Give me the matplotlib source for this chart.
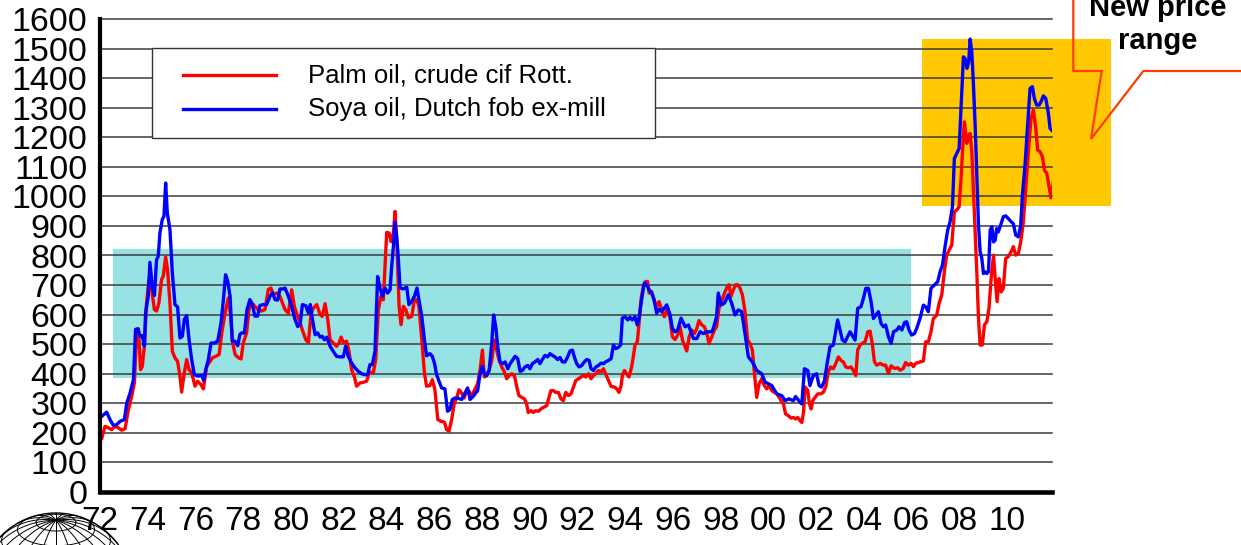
import numpy as np
import matplotlib.pyplot as plt
from matplotlib.patches import Rectangle, Circle

plt.rcParams['font.family'] = ['Liberation Sans', 'DejaVu Sans']

# --- data (USD/t) ---
palm_years = [1972.00, 1972.07, 1972.21, 1972.35, 1972.49, 1972.63, 1972.77, 1972.91, 1973.05, 1973.19,
              1973.33, 1973.44, 1973.54, 1973.61, 1973.70, 1973.77, 1973.86, 1973.95, 1974.05, 1974.16,
              1974.28, 1974.37, 1974.47, 1974.58, 1974.65, 1974.75, 1974.83, 1974.93, 1975.03, 1975.14,
              1975.25, 1975.35, 1975.42, 1975.53, 1975.63, 1975.73, 1975.84, 1975.98, 1976.09, 1976.23,
              1976.33, 1976.47, 1976.57, 1976.71, 1976.85, 1976.99, 1977.10, 1977.24, 1977.38, 1977.47,
              1977.56, 1977.66, 1977.80, 1977.91, 1978.00, 1978.14, 1978.24, 1978.35, 1978.49, 1978.63,
              1978.77, 1978.91, 1979.05, 1979.16, 1979.26, 1979.40, 1979.54, 1979.64,
              1979.75, 1979.89, 1980.03, 1980.14, 1980.28, 1980.38, 1980.52, 1980.62, 1980.73, 1980.84,
              1980.94, 1981.08, 1981.22, 1981.31, 1981.43, 1981.54, 1981.64, 1981.77, 1981.91, 1982.01,
              1982.10, 1982.19, 1982.33, 1982.43, 1982.54, 1982.65, 1982.75, 1982.89, 1983.03, 1983.17,
              1983.27, 1983.35, 1983.45, 1983.55, 1983.66, 1983.77, 1983.87, 1983.94, 1984.01, 1984.11,
              1984.19, 1984.29, 1984.36, 1984.44, 1984.53, 1984.61, 1984.71, 1984.81, 1984.92, 1985.06,
              1985.17, 1985.27, 1985.36, 1985.48, 1985.59, 1985.68, 1985.82, 1985.92, 1986.03, 1986.15,
              1986.29, 1986.43, 1986.52, 1986.62, 1986.73, 1986.84, 1986.94, 1987.04, 1987.15, 1987.26,
              1987.36, 1987.46, 1987.57,
              1987.71, 1987.82, 1987.92, 1988.02, 1988.10, 1988.20, 1988.30, 1988.41, 1988.52, 1988.62,
              1988.72, 1988.83, 1988.94, 1989.04, 1989.13, 1989.25, 1989.36, 1989.46, 1989.55, 1989.67,
              1989.78, 1989.87, 1989.94, 1990.06, 1990.15, 1990.25, 1990.36, 1990.47, 1990.57, 1990.71,
              1990.81, 1990.89, 1990.99, 1991.09, 1991.20, 1991.31, 1991.41, 1991.51, 1991.62, 1991.73,
              1991.83, 1991.93, 1992.04, 1992.15, 1992.25, 1992.35, 1992.46, 1992.57, 1992.67, 1992.77,
              1992.88, 1992.99, 1993.09, 1993.18, 1993.30, 1993.41, 1993.55, 1993.65, 1993.74, 1993.83,
              1993.88, 1993.97, 1994.06, 1994.16, 1994.27, 1994.34, 1994.41, 1994.51, 1994.58, 1994.66,
              1994.76, 1994.86, 1994.94, 1995.00, 1995.11, 1995.21, 1995.32, 1995.42, 1995.53, 1995.64,
              1995.78, 1995.88, 1995.98, 1996.09, 1996.20, 1996.30, 1996.40, 1996.48, 1996.58, 1996.68,
              1996.79, 1996.90, 1997.00, 1997.09, 1997.21, 1997.32, 1997.42, 1997.51, 1997.63, 1997.74,
              1997.83, 1997.93, 1998.04, 1998.16, 1998.25, 1998.35, 1998.43, 1998.53, 1998.63, 1998.71,
              1998.81, 1998.91, 1999.02, 1999.13, 1999.23, 1999.33, 1999.41, 1999.51, 1999.61, 1999.72,
              1999.83, 1999.93, 2000.03, 2000.14, 2000.25, 2000.35, 2000.45, 2000.53, 2000.63, 2000.72,
              2000.84, 2000.95, 2001.05, 2001.14, 2001.23, 2001.33, 2001.40, 2001.47, 2001.54, 2001.65,
              2001.72, 2001.79, 2001.86, 2001.95, 2002.07, 2002.18, 2002.30, 2002.40, 2002.51, 2002.61,
              2002.72, 2002.82, 2002.93, 2003.04, 2003.14, 2003.24, 2003.35, 2003.46, 2003.56, 2003.66,
              2003.74, 2003.84, 2003.94, 2004.05, 2004.16, 2004.26, 2004.36, 2004.44, 2004.54, 2004.68,
              2004.82, 2004.91, 2005.03, 2005.14, 2005.28, 2005.42, 2005.52, 2005.65, 2005.75, 2005.86,
              2005.98, 2006.07, 2006.17, 2006.28, 2006.39, 2006.49, 2006.59, 2006.70, 2006.81, 2006.91,
              2007.05, 2007.15, 2007.26, 2007.37, 2007.47, 2007.57, 2007.68, 2007.79, 2007.89, 2007.99,
              2008.07, 2008.13, 2008.21, 2008.31, 2008.38, 2008.45, 2008.52, 2008.59, 2008.66, 2008.73,
              2008.80, 2008.87, 2008.96, 2009.05, 2009.15, 2009.24, 2009.33, 2009.43, 2009.50, 2009.58,
              2009.66, 2009.75, 2009.84, 2009.94, 2010.05, 2010.17, 2010.26, 2010.36, 2010.47, 2010.57,
              2010.68, 2010.78, 2010.89, 2011.00, 2011.10, 2011.20, 2011.28, 2011.38, 2011.48, 2011.56,
              2011.66, 2011.76, 2011.84, 2011.94]
palm_vals = [195, 180, 222, 217, 211, 222, 217, 209, 214, 279,
             324, 369, 550, 552, 414, 425, 493, 640, 719, 685,
             617, 612, 640, 719, 730, 795, 752, 640, 476, 454,
             442, 392, 338, 403, 448, 414, 403, 358, 375, 363,
             349, 425, 437, 454, 459, 465, 538, 606, 657, 595,
             504, 465, 454, 450, 504, 538, 617, 640, 628, 617,
             612, 617, 685, 690, 668, 673, 662, 640,
             617, 605, 684, 628, 594, 572, 538, 515, 506, 605,
             622, 634, 600, 594, 637, 583, 515, 504, 493, 504,
             524, 506, 510, 476, 414, 391, 358, 369, 371, 375,
             403, 405, 403, 448, 617, 662, 650, 763, 878, 876,
             847, 876, 949, 831, 628, 566, 628, 617, 589, 594,
             650, 650, 628, 515, 403, 358, 360, 380, 346, 245,
             239, 236, 211, 206, 245, 299, 318, 346, 335, 318,
             346, 341, 324,
             349, 366, 411, 480, 389, 394, 411, 445, 514, 480,
             445, 423, 406, 383, 394, 400, 394, 355, 326, 320,
             315, 298, 269, 275, 269, 275, 273, 281, 286, 292,
             320, 343, 343, 337, 337, 315, 309, 337, 326, 332,
             355, 377, 383, 389, 394, 389, 400, 383, 394, 400,
             411, 406, 417, 400, 377, 357, 355, 349, 337, 360,
             394, 411, 400, 389, 423, 457, 497, 508, 570, 650,
             695, 712, 712, 673, 678, 650, 627, 644, 616, 593,
             622, 588, 525, 516, 531, 559, 514, 497, 477, 525,
             548, 536, 553, 580, 565, 559, 536, 502, 525, 548,
             559, 622, 644, 673, 690, 701, 661, 684, 701, 701,
             690, 667, 610, 514, 502, 480, 406, 320, 366, 383,
             360, 349, 360, 343, 337, 332, 320, 309, 298, 264,
             258, 250, 252, 247, 252, 241, 235, 269, 355, 343,
             298, 281, 309, 320, 332, 332, 337, 355, 406, 423,
             417, 434, 457, 445, 440, 423, 420, 423, 411, 394,
             480, 497, 503, 508, 542, 544, 497, 441, 429, 435,
             429, 429, 401, 427, 418, 420, 412, 418, 438, 429,
             435, 424, 435, 438, 441, 443, 508, 508, 542, 587,
             598, 638, 666, 745, 801, 818, 835, 948, 954, 965,
             1061, 1151, 1252, 1179, 1207, 1213, 1151, 1016, 880, 745,
             587, 497, 497, 565, 576, 621, 722, 801, 722, 644,
             722, 677, 689, 790, 796, 813, 830, 801, 807, 846,
             914, 1027, 1151, 1264, 1292, 1230, 1157, 1151, 1134, 1089,
             1078, 1032, 995, 1049]

soya_years = [1972.00, 1972.28, 1972.42, 1972.56, 1972.70, 1972.84, 1973.02, 1973.12, 1973.26, 1973.40,
              1973.49, 1973.58, 1973.68, 1973.77, 1973.86, 1973.91, 1974.02, 1974.09, 1974.19, 1974.28,
              1974.37, 1974.44, 1974.51, 1974.61, 1974.68, 1974.75, 1974.82, 1974.93, 1975.03, 1975.14,
              1975.25, 1975.35, 1975.45, 1975.53, 1975.63, 1975.73, 1975.84, 1975.95, 1976.12, 1976.26,
              1976.34, 1976.43, 1976.54, 1976.65, 1976.79, 1976.93, 1977.07, 1977.17, 1977.26, 1977.35,
              1977.45, 1977.54, 1977.66, 1977.77, 1977.86, 1977.93, 1978.05, 1978.16, 1978.28, 1978.38,
              1978.49, 1978.60, 1978.70, 1978.84, 1978.98, 1979.12, 1979.23, 1979.33, 1979.44, 1979.54,
              1979.68,
              1979.75, 1979.89, 1980.03, 1980.17, 1980.28, 1980.38, 1980.48, 1980.62, 1980.73, 1980.81,
              1980.90, 1981.01, 1981.12, 1981.22, 1981.31, 1981.40, 1981.50, 1981.64, 1981.77, 1981.91,
              1982.05, 1982.19, 1982.29, 1982.40, 1982.54, 1982.68, 1982.82, 1982.96, 1983.10, 1983.21,
              1983.31, 1983.41, 1983.52, 1983.63, 1983.73, 1983.83, 1983.94, 1984.05, 1984.15, 1984.22,
              1984.29, 1984.36, 1984.43, 1984.50, 1984.57, 1984.71, 1984.85, 1984.94, 1985.06, 1985.17,
              1985.28, 1985.36, 1985.48, 1985.59, 1985.68, 1985.82, 1985.92, 1986.01, 1986.10, 1986.20,
              1986.31, 1986.45, 1986.56, 1986.66, 1986.76, 1986.87, 1987.01, 1987.15, 1987.29, 1987.40,
              1987.50, 1987.64,
              1987.71, 1987.82, 1987.92, 1988.02, 1988.10, 1988.20, 1988.30, 1988.41, 1988.49, 1988.58,
              1988.66, 1988.76, 1988.86, 1988.97, 1989.08, 1989.18, 1989.27, 1989.39, 1989.50, 1989.60,
              1989.69, 1989.80, 1989.92, 1990.01, 1990.11, 1990.22, 1990.34, 1990.43, 1990.53, 1990.64,
              1990.75, 1990.85, 1990.95, 1991.06, 1991.17, 1991.27, 1991.37, 1991.48, 1991.59, 1991.69,
              1991.79, 1991.87, 1991.97, 1992.07, 1992.18, 1992.29, 1992.39, 1992.49, 1992.57, 1992.67,
              1992.77, 1992.88, 1992.99, 1993.09, 1993.18, 1993.30, 1993.41, 1993.51, 1993.60, 1993.71,
              1993.81, 1993.88, 1993.99, 1994.11, 1994.20, 1994.30, 1994.41, 1994.51, 1994.58, 1994.65,
              1994.73, 1994.80, 1994.90, 1995.00, 1995.11, 1995.21, 1995.32, 1995.42, 1995.53, 1995.64,
              1995.74, 1995.88, 1995.98, 1996.09, 1996.20, 1996.34, 1996.51, 1996.65, 1996.86, 1997.00,
              1997.14, 1997.28, 1997.42, 1997.63, 1997.69, 1997.83, 1997.90, 1998.02, 1998.16, 1998.32,
              1998.46, 1998.60, 1998.74, 1998.88, 1999.02, 1999.16, 1999.33, 1999.51, 1999.72, 1999.86,
              2000.00, 2000.14, 2000.35, 2000.56, 2000.70, 2000.86, 2001.05, 2001.14, 2001.33, 2001.40,
              2001.51, 2001.65, 2001.74, 2001.88, 2002.02, 2002.12, 2002.23, 2002.35, 2002.48, 2002.58,
              2002.72, 2002.90, 2003.10, 2003.21, 2003.42, 2003.63,
              2003.74, 2003.88, 2003.98, 2004.08, 2004.19, 2004.30, 2004.40, 2004.50, 2004.61, 2004.72,
              2004.82, 2004.91, 2005.03, 2005.14, 2005.24, 2005.38, 2005.47, 2005.59, 2005.70, 2005.79,
              2005.89, 2006.00, 2006.12, 2006.21, 2006.35, 2006.49, 2006.59, 2006.70, 2006.81, 2006.95,
              2007.09, 2007.19, 2007.29, 2007.40, 2007.51, 2007.61, 2007.71, 2007.79, 2007.89, 2007.99,
              2008.07, 2008.17, 2008.24, 2008.32, 2008.39, 2008.45, 2008.52, 2008.59, 2008.66, 2008.73,
              2008.80, 2008.87, 2008.94, 2009.01, 2009.08, 2009.15, 2009.22, 2009.29, 2009.36, 2009.43,
              2009.50, 2009.56, 2009.63, 2009.73, 2009.84, 2009.94, 2010.05, 2010.17, 2010.26, 2010.36,
              2010.47, 2010.57, 2010.64, 2010.75, 2010.86, 2010.96, 2011.06, 2011.14, 2011.24, 2011.34,
              2011.42, 2011.52, 2011.62, 2011.73, 2011.80, 2011.90]
soya_vals = [251, 270, 245, 225, 228, 239, 245, 301, 335, 380,
             550, 552, 527, 529, 493, 606, 662, 777, 696, 665,
             786, 797, 876, 922, 933, 1045, 944, 888, 741, 634,
             626, 521, 527, 583, 597, 516, 448, 397, 392, 395,
             377, 414, 448, 504, 504, 510, 572, 651, 735, 713,
             662, 510, 510, 495, 533, 538, 538, 617, 651, 634,
             595, 595, 631, 634, 634, 662, 674, 651, 649, 687,
             687,
             690, 662, 628, 583, 560, 566, 634, 630, 605, 634,
             583, 532, 538, 524, 527, 515, 524, 493, 476, 459,
             457, 457, 493, 459, 436, 420, 408, 400, 397, 397,
             431, 431, 476, 729, 690, 662, 690, 673, 684, 763,
             831, 912, 864, 786, 690, 687, 693, 634, 645, 662,
             690, 650, 594, 515, 461, 468, 459, 436, 397, 375,
             352, 349, 273, 279, 313, 318, 317, 313, 335, 352,
             313, 324,
             332, 343, 400, 425, 400, 394, 411, 502, 599, 559,
             491, 440, 434, 440, 417, 434, 445, 459, 451, 408,
             411, 423, 428, 417, 434, 440, 448, 434, 448, 462,
             457, 468, 462, 457, 448, 455, 440, 440, 457, 477,
             480, 457, 434, 423, 428, 440, 448, 445, 417, 411,
             423, 428, 436, 434, 440, 445, 451, 497, 485, 489,
             497, 588, 593, 582, 591, 582, 593, 565, 588, 627,
             673, 707, 701, 684, 673, 650, 605, 618, 610, 622,
             633, 599, 553, 542, 548, 588, 559, 565, 519, 519,
             542, 536, 542, 542, 553, 593, 673, 633, 639, 667,
             639, 599, 616, 610, 536, 457, 440, 411, 400, 372,
             366, 360, 332, 326, 309, 315, 309, 323, 303, 298,
             417, 411, 360, 394, 400, 360, 355, 377, 445, 491,
             497, 582, 514, 508, 542, 514,
             621, 627, 655, 689, 689, 644, 587, 598, 610, 570,
             559, 565, 525, 503, 542, 548, 559, 548, 573, 576,
             548, 531, 536, 553, 587, 632, 627, 610, 689, 700,
             711, 745, 767, 830, 886, 914, 965, 1128, 1145, 1162,
             1297, 1472, 1466, 1433, 1455, 1532, 1489, 1377, 1241, 1072,
             903, 813, 790, 739, 745, 739, 745, 886, 897, 846,
             852, 891, 880, 903, 931, 934, 925, 914, 908, 869,
             863, 903, 1004, 1106, 1241, 1365, 1371, 1331, 1309, 1309,
             1320, 1340, 1331, 1280, 1230, 1221]

old_range = (1972.56, 2005.96, 386, 823)   # x0, x1, y0, y1
new_range = (2006.45, 2014.35, 968, 1533)
x_ticks = list(range(1972, 2011, 2))
y_ticks = list(range(0, 1601, 100))

W, H = 1241, 545
fig = plt.figure(figsize=(W / 100, H / 100), dpi=100)
ax = fig.add_axes([100 / W, 1 - 492 / H, 952 / W, 473 / H])

# shaded price ranges
ax.add_patch(Rectangle((old_range[0], old_range[2]), old_range[1] - old_range[0],
                       old_range[3] - old_range[2], facecolor='#97e2e2', edgecolor='none', zorder=0.5))
ax.add_patch(Rectangle((new_range[0], new_range[2]), new_range[1] - new_range[0],
                       new_range[3] - new_range[2], facecolor='#ffc800', edgecolor='none',
                       zorder=0.5, clip_on=False))

for v in y_ticks[1:]:
    ax.axhline(v, color='#3c3c3c', lw=1.1, zorder=1, clip_on=False)

ax.plot(palm_years, palm_vals, color='#ff0000', lw=2.4, zorder=3)
ax.plot(soya_years, soya_vals, color='#0000ff', lw=2.4, zorder=3)

ax.set_xlim(1972.0, 2011.88)
ax.set_ylim(0, 1600)
ax.set_xticks(x_ticks)
ax.set_xticklabels([f'{y % 100:02d}' for y in x_ticks])
ax.set_yticks(y_ticks)
ax.tick_params(axis='both', length=0)
ax.tick_params(axis='y', pad=9, labelsize=24.5)
ax.tick_params(axis='x', pad=10, labelsize=24)
for s in ['top', 'right']:
    ax.spines[s].set_visible(False)
ax.spines['left'].set_linewidth(3)
ax.spines['bottom'].set_linewidth(3.3)
ax.spines['left'].set_zorder(4)
ax.spines['bottom'].set_zorder(4)

# legend box
ax.add_patch(Rectangle((0.0546, 0.748), 0.5284, 0.1907, transform=ax.transAxes,
                       facecolor='white', edgecolor='#333333', lw=1.0, zorder=5))
ax.plot([0.0872, 0.1849], [0.8808, 0.8808], color='#ff0000', lw=2.4,
        transform=ax.transAxes, zorder=6)
ax.plot([0.0872, 0.1849], [0.8087, 0.8087], color='#0000ff', lw=2.4,
        transform=ax.transAxes, zorder=6)
ax.text(0.2185, 0.8808, 'Palm oil, crude cif Rott.', transform=ax.transAxes,
        fontsize=18.5, va='center', ha='left', zorder=6)
ax.text(0.2185, 0.8087, 'Soya oil, Dutch fob ex-mill', transform=ax.transAxes,
        fontsize=18.5, va='center', ha='left', zorder=6)

# overlay in pixel coordinates for the callout and the logo
oax = fig.add_axes([0, 0, 1, 1])
oax.set_xlim(0, W)
oax.set_ylim(H, 0)
oax.axis('off')
oax.patch.set_alpha(0)

oax.plot([1073.3, 1073.3, 1101.7, 1091, 1143.3, 1245], [-5, 71, 71, 139, 71, 71],
         color='#ff3c00', lw=1.6, solid_joinstyle='miter')
oax.text(1158, 15.6, 'New price', ha='center', va='baseline', fontsize=21, fontweight='bold')
oax.text(1158, 48.7, 'range', ha='center', va='baseline', fontsize=21, fontweight='bold')

# wireframe globe logo
cx, cy, r = 56, 590, 77
phi0 = np.radians(25)
oax.add_patch(Circle((cx, cy), r, fill=False, edgecolor='black', lw=1.0))


def proj(lat, lon):
    lat, lon = np.radians(lat), np.radians(lon)
    x = np.cos(lat) * np.sin(lon)
    y = np.cos(phi0) * np.sin(lat) - np.sin(phi0) * np.cos(lat) * np.cos(lon)
    vis = np.sin(phi0) * np.sin(lat) + np.cos(phi0) * np.cos(lat) * np.cos(lon)
    px = np.where(vis >= 0, cx + r * x, np.nan)
    py = np.where(vis >= 0, cy - r * y, np.nan)
    return px, py


t = np.linspace(-180, 180, 361)
for lat in range(-75, 90, 15):
    px, py = proj(np.full_like(t, lat), t)
    oax.plot(px, py, color='black', lw=0.7)
t2 = np.linspace(-90, 90, 181)
for lon in range(-180, 180, 18):
    px, py = proj(t2, np.full_like(t2, lon))
    oax.plot(px, py, color='black', lw=0.7)

fig.savefig('out.png', dpi=100)
